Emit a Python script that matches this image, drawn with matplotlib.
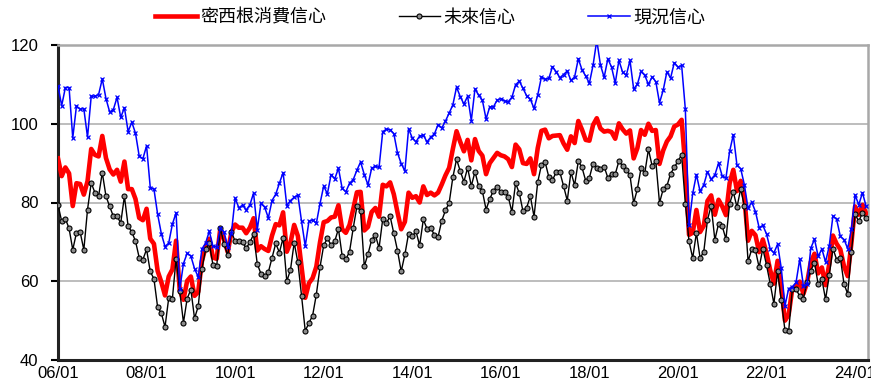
import numpy as np
import matplotlib
matplotlib.use("Agg")
import matplotlib.pyplot as plt

plt.rcParams['font.family'] = ['Liberation Sans', 'Noto Sans CJK TC', 'DejaVu Sans']

# Monthly index values, 2006/01 - 2024/04
sentiment = [
	91.2, 86.7, 88.9, 87.4, 79.1, 84.9, 84.7, 82.0, 85.4, 93.6, 92.1, 91.7,
	96.9, 91.3, 88.4, 87.1, 88.3, 85.3, 90.4, 83.4, 83.4, 80.9, 76.1, 75.5,
	78.4, 70.8, 69.5, 62.6, 59.8, 56.4, 61.2, 63.0, 70.3, 57.6, 55.3, 60.1,
	61.2, 56.3, 57.3, 65.1, 68.7, 70.8, 66.0, 65.7, 73.5, 70.6, 67.4, 72.5,
	74.4, 73.6, 73.6, 72.2, 73.6, 76.0, 67.8, 68.9, 68.2, 67.7, 71.6, 74.5,
	74.2, 77.5, 67.5, 69.8, 74.3, 71.5, 63.7, 55.8, 59.5, 60.8, 63.7, 69.9,
	75.0, 75.3, 76.2, 76.4, 79.3, 73.2, 72.3, 74.3, 78.3, 82.6, 82.7, 72.9,
	73.8, 77.6, 78.6, 76.4, 84.5, 84.1, 85.1, 82.1, 77.5, 73.2, 75.1, 82.5,
	81.2, 81.6, 80.0, 84.1, 81.9, 82.5, 81.8, 82.5, 84.6, 86.9, 88.8, 93.6,
	98.1, 95.4, 93.0, 95.9, 90.7, 96.1, 93.1, 91.9, 87.2, 90.0, 91.3, 92.6,
	92.0, 91.7, 91.0, 89.0, 94.7, 93.5, 90.0, 89.8, 91.2, 87.2, 93.8, 98.2,
	98.5, 96.3, 96.9, 97.0, 97.1, 95.0, 93.4, 96.8, 95.1, 100.7, 98.5, 95.9,
	95.7, 99.7, 101.4, 98.8, 98.0, 98.2, 97.9, 96.2, 100.1, 98.6, 97.5, 98.3,
	91.2, 93.8, 98.4, 97.2, 100.0, 98.2, 98.4, 89.8, 93.2, 95.5, 96.8, 99.3,
	99.8, 101.0, 89.1, 71.8, 72.3, 78.1, 72.5, 74.1, 80.4, 81.8, 76.9, 80.7,
	79.0, 76.8, 84.9, 88.3, 82.9, 85.5, 81.2, 70.3, 72.8, 71.7, 67.4, 70.6,
	67.2, 62.8, 59.4, 65.2, 58.4, 50.0, 51.5, 58.2, 58.6, 59.9, 56.8, 59.7,
	64.9, 67.0, 62.0, 63.5, 59.0, 64.4, 71.6, 69.5, 68.1, 63.8, 61.3, 69.7,
	79.0, 76.9, 79.4, 77.2,
]

expectations = [
	79.4, 75.2, 75.9, 73.4, 68.0, 72.3, 72.5, 68.0, 78.2, 85.0, 82.5, 81.6,
	87.6, 81.6, 79.0, 76.5, 76.5, 74.8, 81.6, 74.0, 72.5, 70.2, 66.0, 65.5,
	68.1, 62.5, 60.6, 53.4, 51.9, 48.4, 55.7, 55.6, 65.7, 57.4, 49.5, 55.6,
	57.9, 50.6, 53.6, 63.1, 68.1, 69.6, 64.1, 63.8, 73.5, 69.4, 66.6, 72.6,
	70.1, 70.3, 69.9, 68.4, 69.9, 71.9, 64.4, 61.9, 61.4, 62.3, 65.9, 69.6,
	67.3, 71.0, 60.0, 62.9, 69.8, 64.8, 56.3, 47.4, 49.4, 51.3, 56.6, 63.6,
	69.1, 70.9, 69.2, 70.2, 73.3, 66.5, 65.6, 67.5, 73.5, 79.0, 77.8, 63.8,
	66.9, 70.5, 71.8, 68.4, 75.8, 74.8, 76.5, 72.2, 67.8, 62.5, 66.8, 72.1,
	71.4, 72.7, 69.1, 75.7, 73.3, 73.5, 71.8, 71.3, 75.4, 78.0, 79.9, 86.4,
	91.0, 88.0, 85.3, 88.8, 84.2, 87.8, 84.1, 82.9, 78.2, 80.9, 83.0, 84.0,
	82.7, 82.7, 81.5, 77.6, 84.9, 82.4, 77.8, 78.7, 81.6, 76.4, 85.2, 89.5,
	90.3, 86.5, 85.7, 87.7, 87.7, 84.2, 80.5, 87.7, 84.4, 90.5, 88.9, 85.5,
	86.3, 89.9, 88.8, 88.4, 89.1, 86.3, 87.3, 87.2, 90.5, 89.3, 88.2, 86.9,
	79.9, 83.4, 88.8, 87.4, 93.5, 89.3, 90.5, 79.9, 83.4, 84.2, 87.3, 88.9,
	90.5, 92.1, 79.7, 70.1, 65.9, 72.3, 65.9, 67.5, 75.6, 79.2, 70.5, 74.6,
	74.0, 70.7, 79.7, 82.7, 78.8, 83.5, 79.0, 65.1, 68.1, 67.9, 63.5, 68.3,
	64.1, 59.4, 54.3, 62.5, 55.2, 47.5, 47.3, 58.0, 58.0, 56.2, 55.6, 59.9,
	62.7, 64.7, 59.2, 60.5, 55.4, 61.5, 68.3, 65.5, 66.0, 59.3, 56.8, 67.4,
	77.1, 75.2, 77.4, 76.0,
]

current = [
	109.6, 104.6, 109.2, 109.2, 96.4, 104.5, 103.7, 103.8, 96.6, 107.0, 107.0, 107.4,
	111.4, 106.4, 103.0, 103.6, 106.7, 101.6, 104.1, 98.0, 100.4, 97.6, 91.8, 91.1,
	94.4, 83.8, 83.4, 77.0, 72.1, 68.8, 69.7, 74.5, 77.4, 58.0, 64.5, 67.1,
	66.4, 63.2, 61.1, 68.2, 69.7, 72.7, 68.9, 68.7, 73.5, 72.5, 68.7, 72.3,
	81.1, 78.7, 79.3, 78.1, 79.4, 82.4, 73.1, 79.8, 78.8, 76.1, 80.5, 82.1,
	84.9, 87.6, 79.2, 80.5, 81.3, 81.9, 75.2, 68.9, 75.2, 75.6, 74.7, 79.7,
	84.2, 82.2, 87.1, 86.0, 88.7, 83.6, 82.7, 84.9, 85.8, 88.2, 90.3, 87.1,
	84.5, 88.7, 89.2, 88.9, 98.0, 98.6, 98.5, 97.5, 92.6, 89.9, 88.0, 98.7,
	96.4, 95.4, 96.9, 97.1, 95.4, 96.6, 97.4, 99.8, 98.9, 100.7, 102.7, 104.8,
	109.3, 106.9, 105.0, 107.0, 100.8, 108.9, 107.2, 106.0, 101.2, 104.3, 104.3, 106.0,
	106.4, 105.8, 105.6, 106.7, 109.9, 110.8, 109.0, 107.1, 106.2, 103.9, 107.3, 111.9,
	111.3, 111.5, 114.5, 113.2, 111.7, 112.5, 113.4, 111.0, 111.9, 116.5, 113.7, 112.1,
	110.3, 114.9, 121.2, 114.9, 111.8, 116.5, 114.4, 110.3, 116.1, 113.1, 112.3, 116.1,
	108.8, 110.0, 113.3, 112.3, 110.0, 111.9, 110.7, 105.3, 108.5, 113.2, 111.6, 115.5,
	114.4, 114.8, 103.7, 74.3, 82.3, 87.1, 82.8, 84.5, 87.8, 85.9, 87.0, 90.0,
	86.7, 86.2, 93.0, 97.2, 89.4, 88.6, 84.5, 78.5, 80.1, 77.7, 73.6, 74.2,
	72.0, 68.2, 67.2, 69.4, 63.3, 53.8, 58.1, 58.6, 59.7, 65.6, 58.8, 59.4,
	68.4, 70.7, 66.3, 68.2, 64.9, 69.0, 76.6, 75.7, 71.4, 70.6, 68.3, 73.3,
	81.9, 79.4, 82.5, 79.0,
]

tick_labels = ["06/01", "08/01", "10/01", "12/01", "14/01",
               "16/01", "18/01", "20/01", "22/01", "24/01"]

x = np.arange(len(sentiment))

fig = plt.figure(figsize=(8.71, 3.85), dpi=100)
ax = fig.add_axes([58 / 871, 25 / 385, 810 / 871, 315 / 385])

ax.plot(x, sentiment, color='#ff0000', lw=3.3, zorder=3,
	solid_joinstyle='round', label='密西根消費信心')
ax.plot(x, expectations, color='black', lw=1.0, marker='o', ms=3.6,
	mfc='#8c8c8c', mec='black', mew=0.8, zorder=4, label='未來信心')
ax.plot(x, current, color='#0000ff', lw=1.1, marker='x', ms=3.5,
	mew=0.9, zorder=5, label='現況信心')

ax.set_ylim(40, 120)
ax.set_xlim(0, len(x) - 0.5)
ax.set_yticks(range(40, 121, 20))
ax.set_xticks(range(0, len(x), 24))
ax.set_xticklabels(tick_labels)

ax.grid(axis='y', color='#b8b8b8', lw=1.3)
ax.set_axisbelow(True)

for side in ('left', 'bottom'):
	ax.spines[side].set_color('#222222')
	ax.spines[side].set_linewidth(2.2)
for side in ('top', 'right'):
	ax.spines[side].set_color('#a8a8a8')
	ax.spines[side].set_linewidth(1.8)

ax.tick_params(axis='y', direction='out', length=5, width=1.5, pad=9,
	labelsize=12, colors='black')
ax.tick_params(axis='x', length=0, pad=4, labelsize=12, colors='black')

fig.legend(loc='center', bbox_to_anchor=(0.494, 0.953), ncol=3,
	frameon=False, fontsize=13, handlelength=2.3, handletextpad=0.2,
	columnspacing=4.0)

fig.savefig('out.png', dpi=100)
